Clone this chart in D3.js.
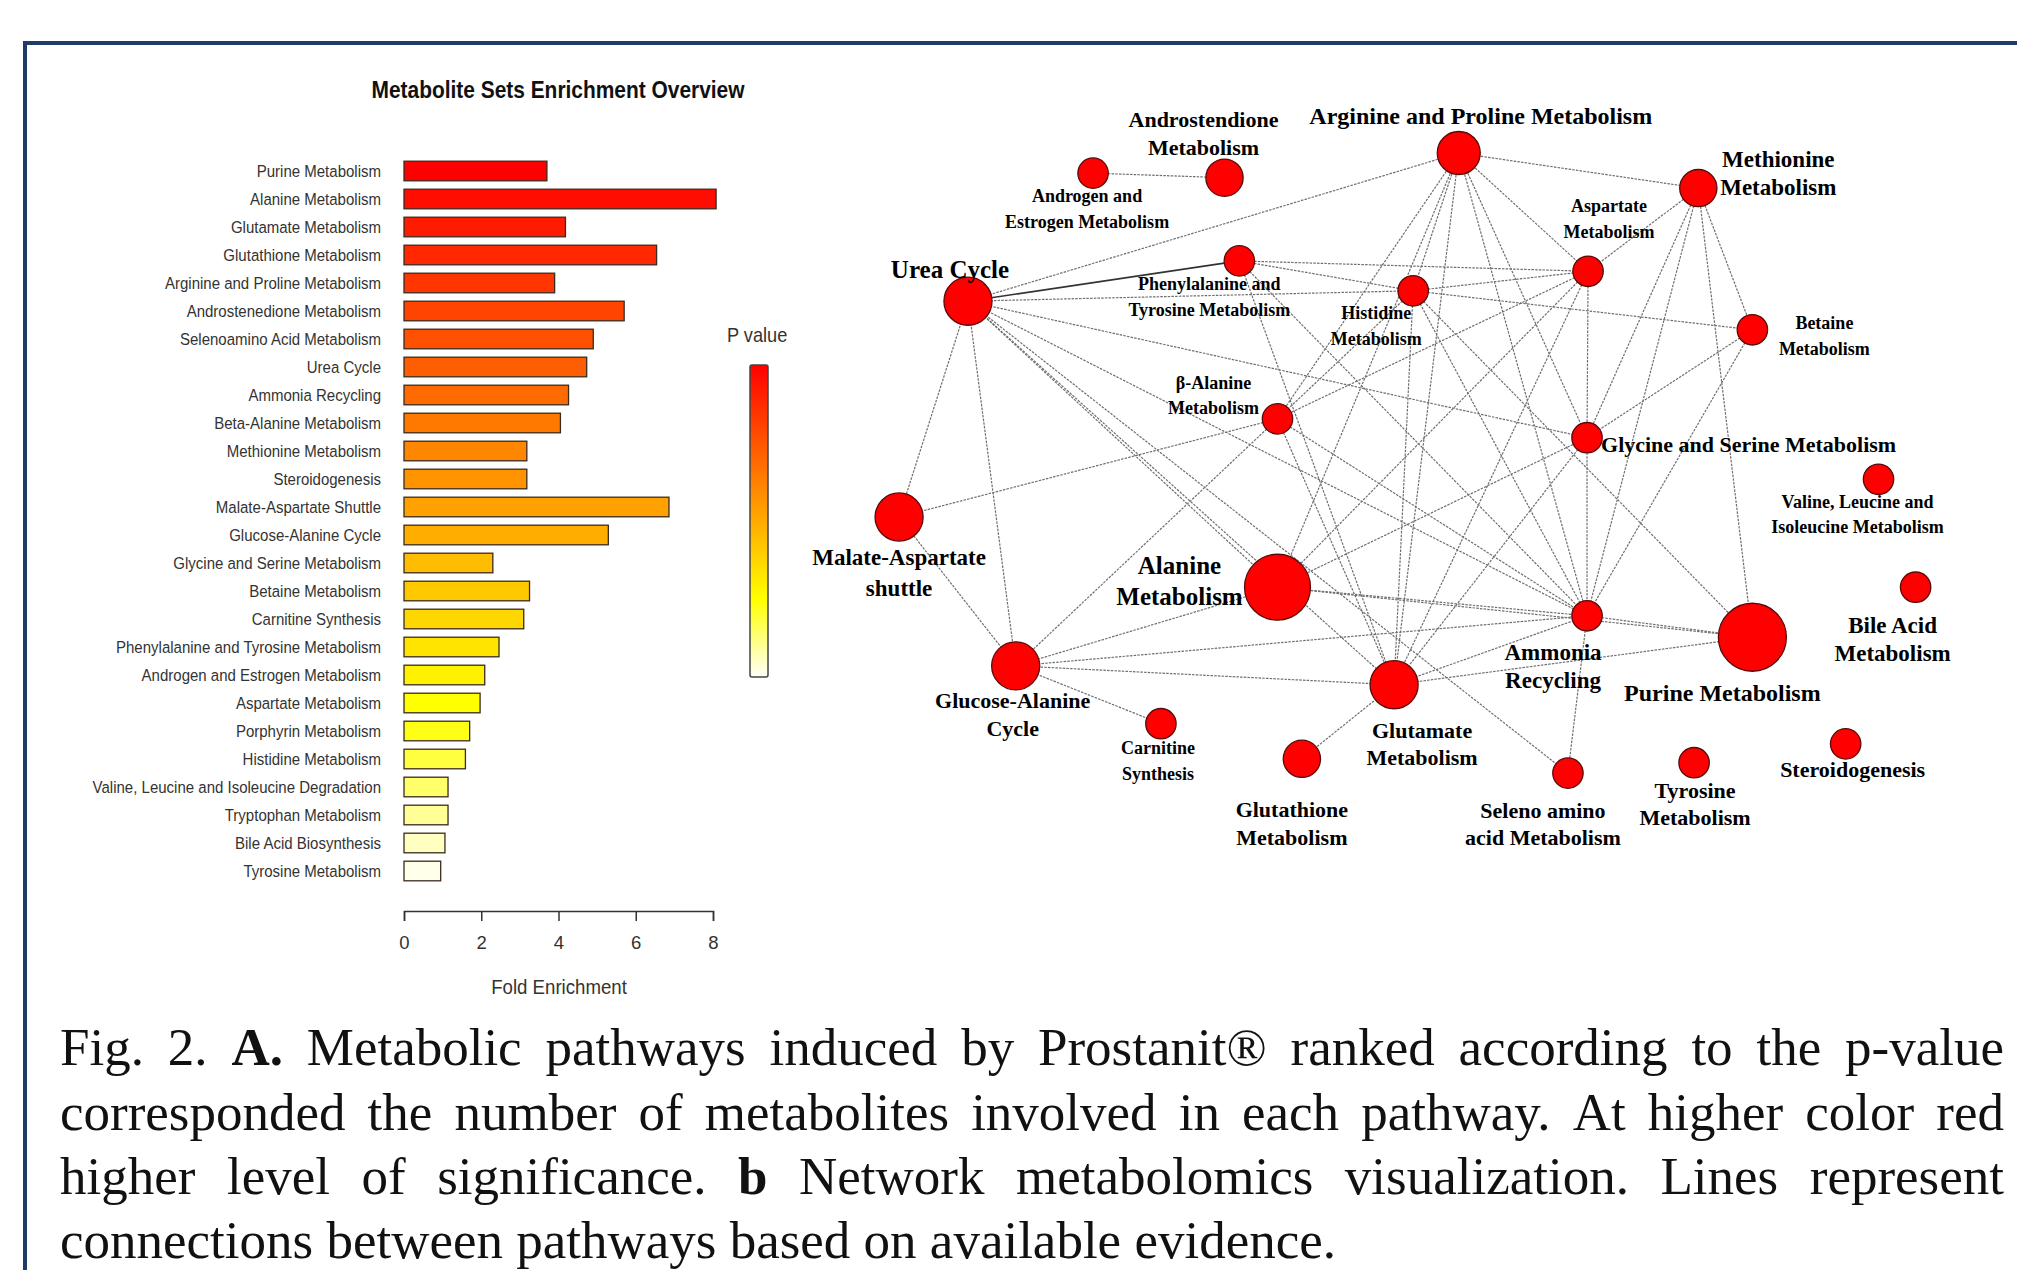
<!DOCTYPE html>
<html>
<head>
<meta charset="utf-8">
<script src="https://cdn.jsdelivr.net/npm/d3@7"></script>
<style>
  body { margin: 0; background: #fff; }
  svg { display: block; }
</style>
</head>
<body>
<div id="chart"></div>
<script>
// ---------- bar chart data (ranked by p value) ----------
const pathways = [
  'Purine Metabolism', 'Alanine Metabolism', 'Glutamate Metabolism', 'Glutathione Metabolism',
  'Arginine and Proline Metabolism', 'Androstenedione Metabolism', 'Selenoamino Acid Metabolism',
  'Urea Cycle', 'Ammonia Recycling', 'Beta-Alanine Metabolism', 'Methionine Metabolism',
  'Steroidogenesis', 'Malate-Aspartate Shuttle', 'Glucose-Alanine Cycle',
  'Glycine and Serine Metabolism', 'Betaine Metabolism', 'Carnitine Synthesis',
  'Phenylalanine and Tyrosine Metabolism', 'Androgen and Estrogen Metabolism',
  'Aspartate Metabolism', 'Porphyrin Metabolism', 'Histidine Metabolism',
  'Valine, Leucine and Isoleucine Degradation', 'Tryptophan Metabolism',
  'Bile Acid Biosynthesis', 'Tyrosine Metabolism'
];
const foldEnrichment = [
  3.70, 8.08, 4.18, 6.54, 3.90, 5.70, 4.90, 4.73, 4.26, 4.05, 3.18, 3.18, 6.86,
  5.29, 2.30, 3.25, 3.10, 2.46, 2.09, 1.97, 1.70, 1.59, 1.14, 1.14, 1.06, 0.95
];
const xTicks = [0, 2, 4, 6, 8];

// ---------- network data ----------
const nodeIds = [
  'Urea', 'AndEst', 'Androst', 'Arginine', 'Methionine', 'Aspartate', 'Phenyl', 'Histidine',
  'Betaine', 'BetaAla', 'Glycine', 'Valine', 'Malate', 'Alanine', 'Bile', 'Ammonia', 'Purine',
  'GlucAla', 'Glutamate', 'Carnitine', 'Steroid', 'Glutathione', 'Tyrosine', 'Seleno'
];
const nodeLabels = [
  ['Urea Cycle'], ['Androgen and', 'Estrogen Metabolism'], ['Androstendione', 'Metabolism'],
  ['Arginine and Proline Metabolism'], ['Methionine', 'Metabolism'], ['Aspartate', 'Metabolism'],
  ['Phenylalanine and', 'Tyrosine Metabolism'], ['Histidine', 'Metabolism'], ['Betaine', 'Metabolism'],
  ['β-Alanine', 'Metabolism'], ['Glycine and Serine Metabolism'], ['Valine, Leucine and', 'Isoleucine Metabolism'],
  ['Malate-Aspartate', 'shuttle'], ['Alanine', 'Metabolism'], ['Bile Acid', 'Metabolism'],
  ['Ammonia', 'Recycling'], ['Purine Metabolism'], ['Glucose-Alanine', 'Cycle'],
  ['Glutamate', 'Metabolism'], ['Carnitine', 'Synthesis'], ['Steroidogenesis'],
  ['Glutathione', 'Metabolism'], ['Tyrosine', 'Metabolism'], ['Seleno amino', 'acid Metabolism']
];
// node weight (drives circle area)
const nodeWeight = [5, 2, 3, 4, 3, 2, 2, 2, 2, 2, 2, 2, 5, 9.4, 2, 2, 10, 5, 5, 2, 2, 3, 2, 2];
// layout coordinates (0-100 layout space)
const layoutX = [8.3, 20.1, 32.5, 54.6, 77.2, 66.8, 33.9, 50.3, 82.3, 37.5, 66.7, 94.2,
                 1.8, 37.5, 97.7, 66.7, 82.3, 12.8, 48.5, 26.5, 91.1, 39.8, 76.8, 64.9];
const layoutY = [24.8, 5.1, 5.8, 2.0, 7.4, 20.2, 18.6, 23.2, 29.2, 42.9, 45.8, 52.2,
                 58.0, 68.8, 68.8, 73.2, 76.5, 80.9, 83.8, 89.8, 92.9, 95.2, 95.8, 97.4];
const edges = [
  ['AndEst', 'Androst'],
  ['Urea', 'Arginine'], ['Urea', 'Phenyl'], ['Urea', 'Histidine'], ['Urea', 'Glycine'],
  ['Urea', 'Ammonia'], ['Urea', 'Alanine'], ['Urea', 'Glutamate'], ['Urea', 'Seleno'],
  ['Urea', 'Malate'], ['Urea', 'GlucAla'],
  ['Arginine', 'Methionine'], ['Arginine', 'Aspartate'], ['Arginine', 'Histidine'],
  ['Arginine', 'BetaAla'], ['Arginine', 'Alanine'], ['Arginine', 'Glutamate'],
  ['Arginine', 'Ammonia'], ['Arginine', 'Glycine'],
  ['Methionine', 'Aspartate'], ['Methionine', 'Glycine'], ['Methionine', 'Purine'],
  ['Methionine', 'Betaine'], ['Methionine', 'Ammonia'],
  ['Phenyl', 'Aspartate'], ['Phenyl', 'Histidine'], ['Phenyl', 'Ammonia'], ['Phenyl', 'Glutamate'],
  ['Histidine', 'Aspartate'], ['Histidine', 'Betaine'], ['Histidine', 'Glutamate'],
  ['Histidine', 'Ammonia'], ['Histidine', 'Purine'], ['Histidine', 'BetaAla'],
  ['Aspartate', 'Glycine'], ['Aspartate', 'BetaAla'], ['Aspartate', 'Alanine'], ['Aspartate', 'Glutamate'],
  ['Betaine', 'Glycine'], ['Betaine', 'Ammonia'],
  ['BetaAla', 'Malate'], ['BetaAla', 'Glutamate'], ['BetaAla', 'Ammonia'], ['BetaAla', 'GlucAla'],
  ['Alanine', 'Ammonia'], ['Alanine', 'Glycine'], ['Alanine', 'Purine'], ['Alanine', 'GlucAla'],
  ['Glycine', 'Ammonia'], ['Glycine', 'Glutamate'],
  ['Glutamate', 'Ammonia'], ['Glutamate', 'Glutathione'], ['Glutamate', 'GlucAla'], ['Glutamate', 'Purine'],
  ['GlucAla', 'Ammonia'], ['GlucAla', 'Carnitine'], ['GlucAla', 'Malate'],
  ['Ammonia', 'Seleno'], ['Ammonia', 'Purine']
];
const strongEdges = [['Urea', 'Phenyl']];

const captionLines = [
  'Fig. 2. **A.** Metabolic pathways induced by Prostanit® ranked according to the p-value',
  'corresponded the number of metabolites involved in each pathway. At higher color red',
  'higher level of significance. **b** Network metabolomics visualization. Lines represent',
  'connections between pathways based on available evidence.'
];

// ---------- label placement (px offsets from node centre) ----------
const labelLayout = {
  Urea: { dx: -18, dy: -31, size: 25 },
  AndEst: { dx: -6, dy: 23, size: 18, gap: 26 },
  Androst: { dx: -21, dy: -58, size: 22, gap: 28 },
  Arginine: { dx: 22, dy: -37, size: 24 },
  Methionine: { dx: 80, dy: -29, size: 23, gap: 28 },
  Aspartate: { dx: 21, dy: -65, size: 18, gap: 26 },
  Phenyl: { dx: -30, dy: 23, size: 18, gap: 26 },
  Histidine: { dx: -37, dy: 22, size: 18, gap: 26 },
  Betaine: { dx: 72, dy: -7, size: 18, gap: 26 },
  BetaAla: { dx: -64, dy: -36, size: 18, gap: 25 },
  Glycine: { dx: 14, dy: 7, size: 22, anchor: 'start' },
  Valine: { dx: -21, dy: 23, size: 18, gap: 25 },
  Malate: { dx: 0, dy: 40, size: 23, gap: 31 },
  Alanine: { dx: -98, dy: -21, size: 25, gap: 31 },
  Bile: { dx: -23, dy: 38, size: 23, gap: 28 },
  Ammonia: { dx: -34, dy: 37, size: 23, gap: 28 },
  Purine: { dx: -30, dy: 56, size: 24 },
  GlucAla: { dx: -3, dy: 35, size: 22, gap: 28 },
  Glutamate: { dx: 28, dy: 46, size: 22, gap: 27 },
  Carnitine: { dx: -3, dy: 24, size: 18, gap: 26 },
  Steroid: { dx: 7, dy: 26, size: 22 },
  Glutathione: { dx: -10, dy: 51, size: 22, gap: 28 },
  Tyrosine: { dx: 1, dy: 28, size: 22, gap: 27 },
  Seleno: { dx: -25, dy: 38, size: 22, gap: 27 }
};

// R-style heat.colors(n)
function heatColors(n) {
  const j = Math.floor(n / 4), k = n - j;
  const out = [];
  for (let i = 0; i < k; i++) out.push(d3.hsl(k > 1 ? i / (k - 1) * 60 : 0, 1, 0.5).formatHex());
  for (let m = 0; m < j; m++) {
    const s = j > 1 ? (1 - 1 / (2 * j)) - m * ((1 - 1 / j) / (j - 1)) : 0.5;
    out.push(d3.hsl(60, 1, 1 - s / 2).formatHex());
  }
  return out;
}

const W = 2017, H = 1270;
const svg = d3.select('#chart').append('svg')
  .attr('width', W)
  .attr('height', H);

// outer frame
svg.append('rect')
  .attr('x', 25).attr('y', 43)
  .attr('width', 2300).attr('height', 1500)
  .attr('fill', 'none')
  .attr('stroke', '#1f3b66')
  .attr('stroke-width', 4);

// ================= A. bar chart =================
const sans = 'Liberation Sans, Arial, sans-serif';
const narrow = 0.91; // R's png font is a bit narrower than Arial
const colors = heatColors(pathways.length);

// text helper: narrow sans text anchored at (x, y)
function sansText(parent, x, y, size, anchor) {
  return parent.append('text')
    .attr('transform', `translate(${x},${y}) scale(${narrow},1)`)
    .attr('text-anchor', anchor)
    .attr('font-family', sans)
    .attr('font-size', size)
    .attr('fill', '#333');
}

const x = d3.scaleLinear().domain([0, 8]).range([404, 713]);
const y = d3.scaleBand().domain(pathways).range([157, 885]).paddingInner(0.3).paddingOuter(0.15);

sansText(svg, 558, 98, 23, 'middle')
  .attr('font-weight', 'bold')
  .attr('fill', '#111')
  .text('Metabolite Sets Enrichment Overview');

const barGroup = svg.append('g');
barGroup.selectAll('rect')
  .data(pathways)
  .enter()
  .append('rect')
  .attr('x', x(0))
  .attr('y', d => y(d))
  .attr('width', (d, i) => x(foldEnrichment[i]) - x(0))
  .attr('height', y.bandwidth())
  .attr('fill', (d, i) => colors[i])
  .attr('stroke', '#3a2a20')
  .attr('stroke-width', 1.3);

pathways.forEach(d => {
  sansText(barGroup, 381, y(d) + y.bandwidth() / 2, 16.5, 'end')
    .attr('dy', '0.35em')
    .text(d);
});

const axis = svg.append('g')
  .attr('transform', 'translate(0,911)')
  .call(d3.axisBottom(x).tickValues(xTicks).tickSize(10).tickPadding(15));
axis.select('.domain').attr('stroke', '#333').attr('stroke-width', 1.5);
axis.selectAll('.tick line').attr('stroke', '#333').attr('stroke-width', 1.5);
axis.selectAll('.tick text')
  .attr('font-family', sans)
  .attr('font-size', 18.5)
  .attr('fill', '#333');

sansText(svg, 559, 994, 20.5, 'middle').text('Fold Enrichment');

// P value legend
const defs = svg.append('defs');
const grad = defs.append('linearGradient')
  .attr('id', 'heat')
  .attr('x1', 0).attr('x2', 0).attr('y1', 0).attr('y2', 1);
const legendColors = heatColors(100);
grad.selectAll('stop')
  .data(legendColors)
  .enter()
  .append('stop')
  .attr('offset', (d, i) => i / (legendColors.length - 1))
  .attr('stop-color', d => d);

sansText(svg, 727, 342, 20, 'start').text('P value');

svg.append('rect')
  .attr('x', 750).attr('y', 365)
  .attr('width', 18).attr('height', 312)
  .attr('rx', 2)
  .attr('fill', 'url(#heat)')
  .attr('stroke', '#444')
  .attr('stroke-width', 1.5);

// ================= b. network =================
const nx = d3.scaleLinear().domain([0, 100]).range([880, 1940]);
const ny = d3.scaleLinear().domain([0, 100]).range([140, 790]);
const nr = d3.scaleSqrt().domain([0, 10]).range([0, 34]);

const nodes = nodeIds.map((id, i) => ({
  id,
  lines: nodeLabels[i],
  cx: nx(layoutX[i]),
  cy: ny(layoutY[i]),
  r: nr(nodeWeight[i])
}));
const byId = new Map(nodes.map(n => [n.id, n]));
const isStrong = (a, b) => strongEdges.some(e => (e[0] === a && e[1] === b) || (e[0] === b && e[1] === a));

const net = svg.append('g');
net.selectAll('line')
  .data(edges)
  .enter()
  .append('line')
  .attr('x1', d => byId.get(d[0]).cx)
  .attr('y1', d => byId.get(d[0]).cy)
  .attr('x2', d => byId.get(d[1]).cx)
  .attr('y2', d => byId.get(d[1]).cy)
  .attr('stroke', d => isStrong(d[0], d[1]) ? '#333' : '#6f6f6f')
  .attr('stroke-width', d => isStrong(d[0], d[1]) ? 1.6 : 1.2)
  .attr('stroke-dasharray', d => isStrong(d[0], d[1]) ? null : '2.5,1.2');

net.selectAll('circle')
  .data(nodes)
  .enter()
  .append('circle')
  .attr('cx', d => d.cx)
  .attr('cy', d => d.cy)
  .attr('r', d => d.r)
  .attr('fill', '#ff0000')
  .attr('stroke', '#5a0a0a')
  .attr('stroke-width', 1.3);

const serif = 'Liberation Serif, Times New Roman, serif';
const labels = net.selectAll('text.node-label')
  .data(nodes)
  .enter()
  .append('text')
  .attr('class', 'node-label')
  .attr('font-family', serif)
  .attr('font-weight', 'bold')
  .attr('font-size', d => labelLayout[d.id].size)
  .attr('text-anchor', d => labelLayout[d.id].anchor || 'middle')
  .attr('fill', '#000');

labels.each(function (d) {
  const L = labelLayout[d.id];
  d3.select(this).selectAll('tspan')
    .data(d.lines)
    .enter()
    .append('tspan')
    .attr('x', d.cx + L.dx)
    .attr('y', (t, i) => d.cy + L.dy + i * (L.gap || 0))
    .attr('dy', '0.33em')
    .text(t => t);
});

// ================= caption =================
const capSize = 53;
const capLeft = 60, capRight = 2004;
const capBaselines = [1065, 1130, 1194, 1258];
const cap = svg.append('g')
  .attr('font-family', serif)
  .attr('font-size', capSize)
  .attr('fill', '#111');

const spaceProbe = cap.append('text').text('a a');
const probeA = cap.append('text').text('aa');
const spaceW = spaceProbe.node().getComputedTextLength() - probeA.node().getComputedTextLength();
spaceProbe.remove();
probeA.remove();

captionLines.forEach((line, li) => {
  const words = line.split(' ').map(w => {
    const bold = /^\*\*.*\*\*$/.test(w);
    return { text: bold ? w.slice(2, -2) : w, bold };
  });
  const texts = words.map(w => cap.append('text')
    .attr('y', capBaselines[li])
    .attr('font-weight', w.bold ? 'bold' : 'normal')
    .text(w.text));
  const widths = texts.map(t => t.node().getComputedTextLength());
  const total = d3.sum(widths);
  const last = li === captionLines.length - 1;
  const gap = last ? spaceW : (capRight - capLeft - total) / (words.length - 1);
  let cx = capLeft;
  texts.forEach((t, i) => {
    t.attr('x', cx);
    cx += widths[i] + gap;
  });
});
</script>
</body>
</html>
